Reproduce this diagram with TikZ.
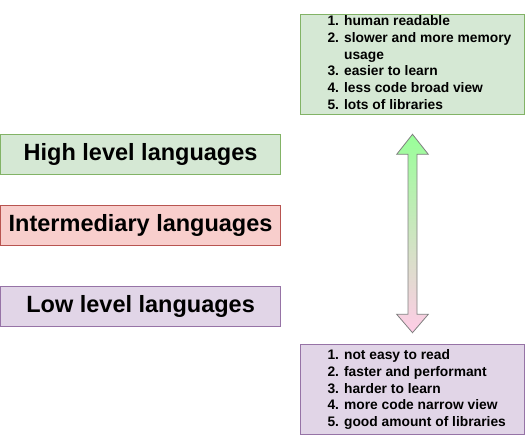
\documentclass[tikz,border=0pt]{standalone}
\usepackage{fontspec}
\setmainfont{Liberation Sans}
\usetikzlibrary{positioning}
\definecolor{hifill}{HTML}{D5E8D4}
\definecolor{hiline}{HTML}{82B366}
\definecolor{midfill}{HTML}{F8CECC}
\definecolor{midline}{HTML}{B85450}
\definecolor{lofill}{HTML}{E1D5E7}
\definecolor{loline}{HTML}{9673A6}
\definecolor{arrtop}{HTML}{99FF99}
\definecolor{arrbot}{HTML}{FFCCE6}
\definecolor{arrline}{HTML}{808080}

\begin{document}
\begin{tikzpicture}[x=1pt, y=-1pt,
    langbox/.style={rectangle, line width=0.9pt, minimum width=280.2pt, minimum height=40pt, inner sep=0pt, font=\bfseries\fontsize{23.5}{28}\selectfont},
    notebox/.style={rectangle, line width=0.9pt, minimum width=224.3pt, inner sep=0pt},
    notes/.style={align=left, inner sep=0pt, anchor=base west, font=\bfseries\fontsize{13.8}{16.8}\selectfont},
  ]
  \useasboundingbox (0,0) rectangle (526,446);

  % Left: language levels
  \node[langbox, draw=hiline, fill=hifill] (high) at (140.6,154.3) {High level languages};
  \node[langbox, draw=midline, fill=midfill, below=30pt of high] (mid) {Intermediary languages};
  \node[langbox, draw=loline, fill=lofill, below=40pt of mid] (low) {Low level languages};

  % Right: properties (anchored at the last baseline)
  \node[notebox, draw=hiline, fill=hifill, minimum height=100pt] (hinotes) at (412.2,64) {};
  \node[notes] (hilist) at (327.3,109.5) {1. human readable\\2. slower and more memory\\\phantom{2. }usage\\3. easier to learn\\4. less code broad view\\5. lots of libraries};
  \node[notebox, draw=loline, fill=lofill, minimum height=90pt] (lonotes) at (412.2,389) {};
  \node[notes] (lolist) at (327.3,426.7) {1. not easy to read\\2. faster and performant\\3. harder to learn\\4. more code narrow view\\5. good amount of libraries};

  % Double arrow between the two boxes
  \shade[top color=arrtop, bottom color=arrbot, draw=arrline, line width=0.8pt]
    (412.5,134.3) -- (428.3,154.3) -- (417,154.3) -- (417,314.3) -- (428.3,314.3)
    -- (412.5,332.7) -- (396.7,314.3) -- (408,314.3) -- (408,154.3) -- (396.7,154.3) -- cycle;
\end{tikzpicture}
\end{document}
